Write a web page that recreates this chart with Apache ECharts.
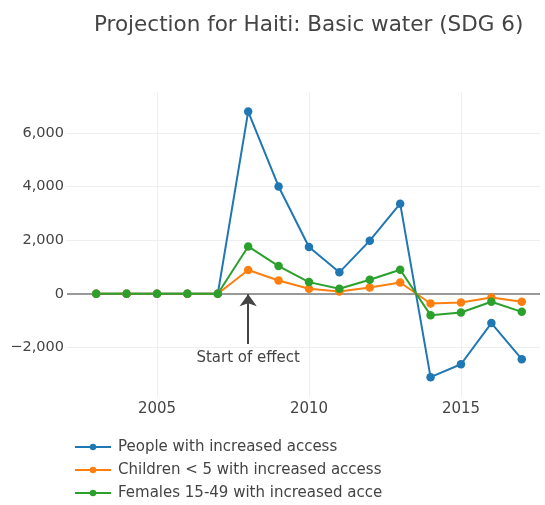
<!DOCTYPE html>
<html>
<head>
<meta charset="utf-8">
<script src="https://cdn.jsdelivr.net/npm/echarts@6/dist/echarts.min.js"></script>
<style>html,body{margin:0;padding:0;background:#fff;}#chart{width:545px;height:505px;}</style>
</head>
<body>
<div id="chart"></div>
<script>
const years = [2003, 2004, 2005, 2006, 2007, 2008, 2009, 2010, 2011, 2012, 2013, 2014, 2015, 2016, 2017];
const people = [0, 0, 0, 0, 0, 6790, 4000, 1745, 800, 1980, 3360, -3105, -2625, -1090, -2435];
const children = [0, 0, 0, 0, 0, 885, 497, 187, 87, 236, 423, -361, -323, -137, -298];
const females = [0, 0, 0, 0, 0, 1766, 1032, 436, 187, 522, 896, -795, -697, -298, -672];
const seriesNames = ['People with increased access', 'Children < 5 with increased access', 'Females 15-49 with increased access'];
const xTicks = [2005, 2010, 2015];
const yTicks = [-2000, 0, 2000, 4000, 6000];
const titleText = 'Projection for Haiti: Basic water (SDG 6)';
const effectYear = 2008;
const effectLabel = 'Start of effect';

const colors = ['#1f77b4', '#ff7f0e', '#2ca02c'];
const font = '"DejaVu Sans", Verdana, sans-serif';
const chart = echarts.init(document.getElementById('chart'), null, {renderer: 'canvas'});

function fmt(v) {
  const s = Math.abs(v).toString().replace(/\B(?=(\d{3})+(?!\d))/g, ',');
  return v < 0 ? '\u2212' + s : s;
}
function pairs(vals) { return years.map((y, i) => [y, vals[i]]); }

const mkSeries = (name, vals, color, extra) => Object.assign({
  name: name, type: 'line', data: pairs(vals), color: color,
  symbol: 'circle', symbolSize: 8.5, showSymbol: true,
  lineStyle: {width: 2, color: color}, itemStyle: {color: color},
  emphasis: {disabled: true}, animation: false
}, extra || {});

chart.setOption({
  animation: false,
  textStyle: {fontFamily: font},
  title: {
    text: titleText, left: 89, top: 9,
    textStyle: {fontFamily: font, fontSize: 21.5, fontWeight: 'normal', color: '#444'}
  },
  grid: {left: 67, right: 5, top: 92, bottom: 108, containLabel: false},
  xAxis: {
    type: 'value', min: 2002.04, max: 2017.6,
    axisLine: {show: false}, axisTick: {show: false, customValues: xTicks},
    axisLabel: {customValues: xTicks, color: '#444', fontSize: 15, fontFamily: font, margin: 5, formatter: v => String(v)},
    splitLine: {show: true, lineStyle: {color: '#eee', width: 1}}
  },
  yAxis: {
    type: 'value', min: -3845, max: 7520,
    axisLine: {show: false}, axisTick: {show: false, customValues: yTicks},
    axisLabel: {customValues: yTicks, color: '#444', fontSize: 14.5, fontFamily: font, margin: 3, formatter: fmt},
    splitLine: {show: true, lineStyle: {color: '#eee', width: 1}}
  },
  legend: {
    orient: 'vertical', left: 69, top: 434, height: 120, itemWidth: 36, itemHeight: 8, itemGap: 7,
    data: seriesNames,
    textStyle: {color: '#444', fontSize: 15, fontFamily: font, lineHeight: 16, padding: [0, 0, 0, 2], width: 266, overflow: 'truncate', ellipsis: ''}
  },
  series: [
    mkSeries(seriesNames[0], people, colors[0], {
      z: 3,
      markLine: {
        silent: true, symbol: 'none', z: 1, animation: false,
        lineStyle: {color: '#999', width: 2, type: 'solid'},
        label: {show: false},
        data: [{yAxis: 0}]
      }
    }),
    mkSeries(seriesNames[1], children, colors[1], {z: 3}),
    mkSeries(seriesNames[2], females, colors[2], {
      z: 3,
      markLine: {
        silent: true, animation: false, z: 6,
        symbol: ['none', 'arrow'], symbolSize: [13, 12],
        lineStyle: {color: '#444', width: 2, type: 'solid'},
        label: {show: true, position: 'start', formatter: effectLabel, color: '#444', fontSize: 15, fontFamily: font, distance: 7},
        data: [[{coord: [effectYear, -1870]}, {coord: [effectYear, -20]}]]
      }
    })
  ]
});
</script>
</body>
</html>
